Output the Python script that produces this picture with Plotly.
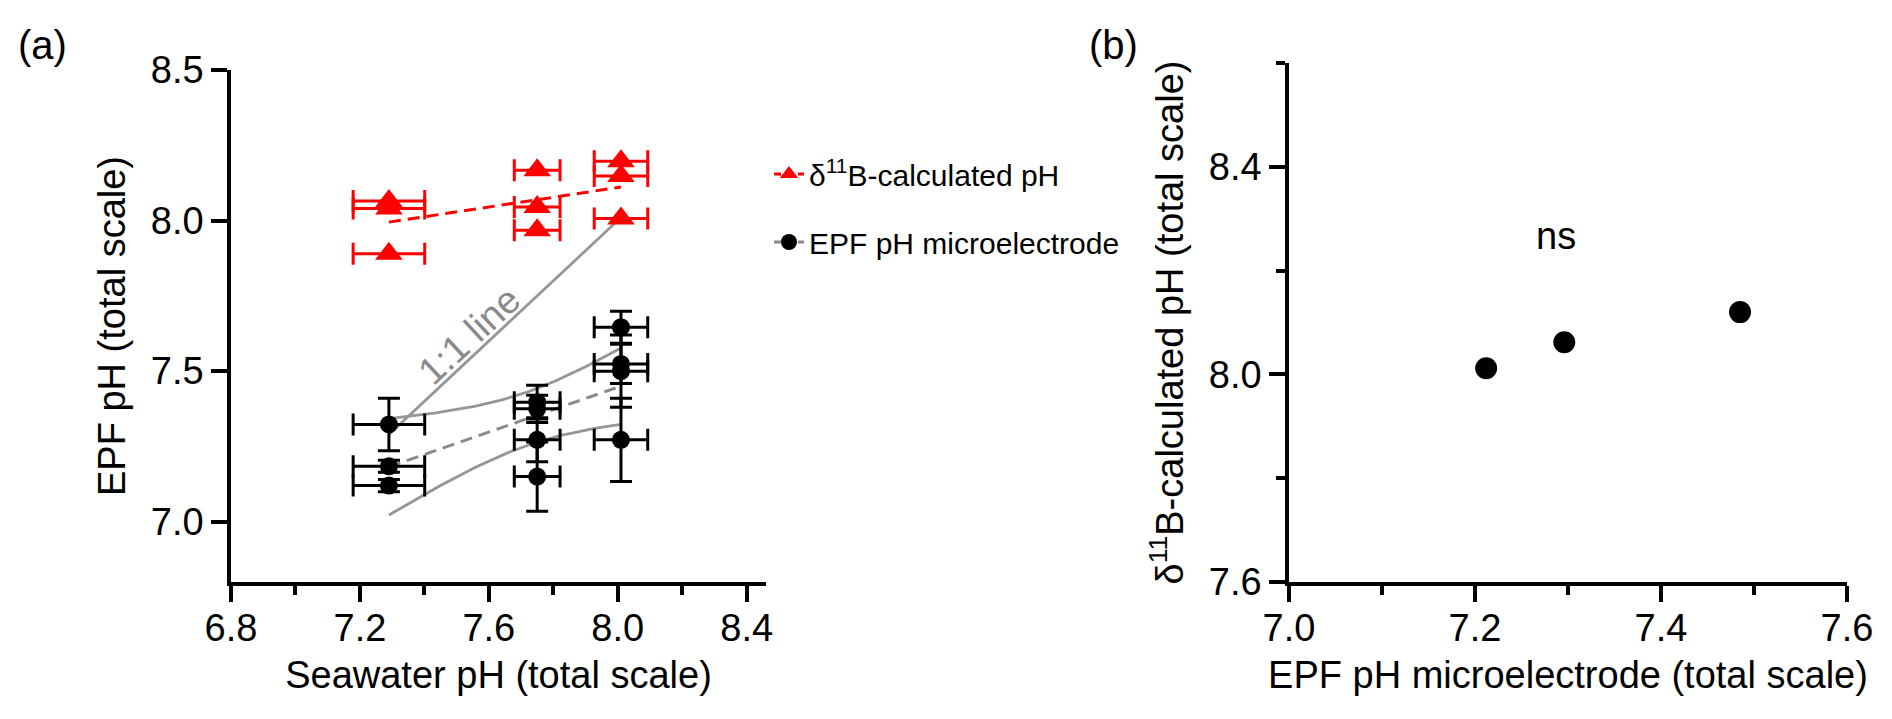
import numpy as np
import plotly.graph_objects as go
from plotly.subplots import make_subplots

# panel (a): seawater pH treatments
red_x = [7.29, 7.29, 7.29, 7.75, 7.75, 7.75, 8.01, 8.01, 8.01]
red_y = [8.065, 8.04, 7.89, 8.167, 8.045, 7.968, 8.197, 8.148, 8.007]
red_xerr = [0.111, 0.111, 0.111, 0.071, 0.071, 0.071, 0.083, 0.083, 0.083]

blk_x = [7.29, 7.29, 7.29, 7.75, 7.75, 7.75, 7.75, 8.01, 8.01, 8.01, 8.01]
blk_y = [7.323, 7.184, 7.12, 7.397, 7.375, 7.272, 7.15, 7.646, 7.524, 7.50, 7.272]
blk_xerr = [0.111, 0.111, 0.111, 0.071, 0.071, 0.071, 0.071, 0.083, 0.083, 0.083, 0.083]
blk_yerr = [0.087, 0.02, 0.02, 0.056, 0.045, 0.073, 0.115, 0.053, 0.065, 0.12, 0.138]

# panel (b): group means
epf_x = [7.212, 7.296, 7.485]
boron_y = [8.012, 8.062, 8.12]

T_975_DF9 = 2.262  # two-sided 95% t value, 9 degrees of freedom

RED = "#ff0000"
GREY = "#969696"
FONT = "Arial, 'Liberation Sans', sans-serif"
W, H = 1892, 719


def fit_line(x, y, n=60):
    x = np.asarray(x, float)
    y = np.asarray(y, float)
    slope, icpt = np.polyfit(x, y, 1)
    xs = np.linspace(x.min(), x.max(), n)
    ys = slope * xs + icpt
    resid = y - (slope * x + icpt)
    s = np.sqrt((resid ** 2).sum() / (len(x) - 2))
    sxx = ((x - x.mean()) ** 2).sum()
    se = s * np.sqrt(1 / len(x) + (xs - x.mean()) ** 2 / sxx)
    return xs, ys, se


fig = make_subplots(rows=1, cols=2)

# 1:1 line
one_x = [min(blk_x), max(blk_x)]
fig.add_trace(go.Scatter(x=one_x, y=one_x, mode="lines", line=dict(color=GREY, width=2.8),
                         showlegend=False, hoverinfo="skip"), row=1, col=1)

# black regression with 95% confidence band
bx, by, bse = fit_line(blk_x, blk_y)
fig.add_trace(go.Scatter(x=bx, y=by + T_975_DF9 * bse, mode="lines", line=dict(color=GREY, width=2.8),
                         showlegend=False, hoverinfo="skip"), row=1, col=1)
fig.add_trace(go.Scatter(x=bx, y=by - T_975_DF9 * bse, mode="lines", line=dict(color=GREY, width=2.8),
                         showlegend=False, hoverinfo="skip"), row=1, col=1)
fig.add_trace(go.Scatter(x=bx, y=by, mode="lines", line=dict(color="#8a8a8a", width=3, dash="12px,7px"),
                         showlegend=False, hoverinfo="skip"), row=1, col=1)

# red regression
rx, ry, _ = fit_line(red_x, red_y)
fig.add_trace(go.Scatter(x=rx, y=ry, mode="lines", line=dict(color=RED, width=3, dash="12px,7px"),
                         showlegend=False, hoverinfo="skip"), row=1, col=1)

fig.add_trace(go.Scatter(
    x=red_x, y=red_y, mode="markers",
    marker=dict(symbol="triangle-up", size=24, color=RED),
    error_x=dict(type="data", array=red_xerr, color=RED, thickness=3, width=11),
    showlegend=False), row=1, col=1)

fig.add_trace(go.Scatter(
    x=blk_x, y=blk_y, mode="markers",
    marker=dict(symbol="circle", size=18, color="black"),
    error_x=dict(type="data", array=blk_xerr, color="black", thickness=3, width=11),
    error_y=dict(type="data", array=blk_yerr, color="black", thickness=3, width=11),
    showlegend=False), row=1, col=1)

# legend entries
fig.add_trace(go.Scatter(x=[None], y=[None], mode="lines+markers", name="δ<sup>11</sup>B-calculated pH",
                         line=dict(color=RED, width=3, dash="7px,5px"),
                         marker=dict(symbol="triangle-up", size=24, color=RED),
                         legendgroup="r"), row=1, col=1)
fig.add_trace(go.Scatter(x=[None], y=[None], mode="lines+markers", name="EPF pH microelectrode",
                         line=dict(color="#8a8a8a", width=3, dash="7px,5px"),
                         marker=dict(symbol="circle", size=18, color="black"),
                         legendgroup="b"), row=1, col=1)

# panel (b)
fig.add_trace(go.Scatter(x=epf_x, y=boron_y, mode="markers",
                         marker=dict(symbol="circle", size=22, color="black"),
                         showlegend=False), row=1, col=2)

axis_common = dict(showline=True, linecolor="black", linewidth=3.5, showgrid=False, zeroline=False,
                   automargin=False,
                   ticks="outside", ticklen=16, tickwidth=3.5, tickcolor="black",
                   tickfont=dict(family=FONT, size=38, color="black"), tickformat=".1f",
                   title_font=dict(family=FONT, size=38, color="black"))

fig.update_xaxes(axis_common)
fig.update_yaxes(axis_common)

y_bot = (H - 582) / H
fig.update_xaxes(domain=[231 / W, 766 / W], range=[6.8, 8.46], tick0=6.8, dtick=0.4,
                 minor=dict(ticks="outside", ticklen=9, tickwidth=3.5, tickcolor="black", dtick=0.2, tick0=6.8),
                 ticklabelstandoff=-6,
                 title=dict(text="Seawater pH (total scale)", standoff=14), row=1, col=1)
fig.update_yaxes(domain=[y_bot, (H - 70) / H], range=[6.8, 8.5], tick0=7.0, dtick=0.5,
                 title=dict(text="EPF pH (total scale)", standoff=15), row=1, col=1)
fig.update_xaxes(domain=[1289 / W, 1847 / W], range=[7.0, 7.6], tick0=7.0, dtick=0.2,
                 minor=dict(ticks="outside", ticklen=9, tickwidth=3.5, tickcolor="black", dtick=0.1, tick0=7.0),
                 ticklabelstandoff=-6,
                 title=dict(text="EPF pH microelectrode (total scale)", standoff=14), row=1, col=2)
fig.update_yaxes(domain=[y_bot, (H - 63) / H], range=[7.6, 8.6], tick0=7.6, dtick=0.4,
                 minor=dict(ticks="outside", ticklen=9, tickwidth=3.5, tickcolor="black", dtick=0.2, tick0=7.6),
                 title=dict(text="δ<sup>11</sup>B-calculated pH (total scale)", standoff=15), row=1, col=2)

fig.update_layout(
    width=W, height=H, autosize=False,
    margin=dict(l=0, r=0, t=0, b=0, autoexpand=False),
    plot_bgcolor="white", paper_bgcolor="white",
    font=dict(family=FONT, color="black"),
    legend=dict(x=769 / W, y=1 - 148 / H, xanchor="left", yanchor="top",
                font=dict(family=FONT, size=30, color="black"),
                tracegroupgap=26, bgcolor="rgba(0,0,0,0)"),
    annotations=[
        dict(text="(a)", x=42 / W, y=1 - 45 / H, xref="paper", yref="paper", showarrow=False,
             xanchor="center", yanchor="middle", font=dict(family=FONT, size=40)),
        dict(text="(b)", x=1113 / W, y=1 - 45 / H, xref="paper", yref="paper", showarrow=False,
             xanchor="center", yanchor="middle", font=dict(family=FONT, size=40)),
        dict(text="ns", x=7.287, y=8.267, xref="x2", yref="y2", showarrow=False,
             font=dict(family=FONT, size=38)),
        dict(text="1:1 line", x=7.541, y=7.619, xref="x", yref="y", showarrow=False, textangle=-43,
             font=dict(family=FONT, size=38, color="#8a8a8a")),
    ],
)

# page body has a default 8px margin; drop it so the figure sits at the window origin
fig.write_html("out.html", config={"displayModeBar": False},
               post_script="document.body.style.margin='0';document.body.style.overflow='hidden';")
